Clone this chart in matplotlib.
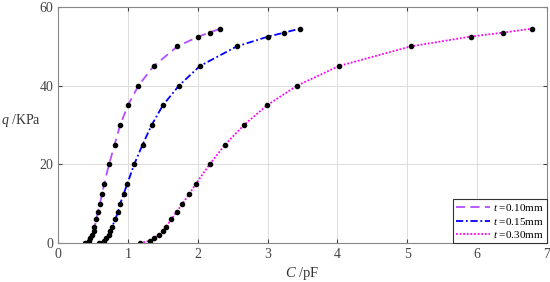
import numpy as np
import matplotlib.pyplot as plt

plt.rcParams['font.family'] = ['Liberation Serif', 'DejaVu Serif']
plt.rcParams['mathtext.fontset'] = 'custom'
plt.rcParams['mathtext.it'] = 'Liberation Serif:italic'
plt.rcParams['mathtext.rm'] = 'Liberation Serif'

# capacitance (pF) and pressure (KPa)
q = [0, 0.6, 1.2, 2, 3, 4, 6, 8, 10, 12.5, 15, 20, 25, 30, 35, 40, 45, 50, 52.5, 53.5, 54.5]
c_010 = [0.39, 0.44, 0.46, 0.49, 0.51, 0.52, 0.55, 0.57, 0.60, 0.63, 0.66, 0.73, 0.81,
         0.89, 1.00, 1.15, 1.37, 1.71, 2.01, 2.17, 2.32]
c_015 = [0.59, 0.66, 0.69, 0.73, 0.75, 0.77, 0.82, 0.86, 0.89, 0.94, 0.99, 1.09, 1.21,
         1.34, 1.50, 1.73, 2.03, 2.56, 3.01, 3.24, 3.46]
c_030 = [1.17, 1.32, 1.38, 1.44, 1.50, 1.54, 1.62, 1.70, 1.78, 1.88, 1.97, 2.17, 2.39,
         2.66, 2.99, 3.42, 4.02, 5.05, 5.91, 6.37, 6.78]

labels = ['$t$ =0.10mm', '$t$ =0.15mm', '$t$ =0.30mm']
colors = ['#b44dff', '#0000ff', '#ff00ff']
styles = [(0, (5, 3)), (0, (4, 1.5, 1, 1.5)), (0, (1, 1))]

fig = plt.figure(figsize=(5.5, 2.82), dpi=100)
ax = fig.add_axes([0.1055, 0.138, 0.889, 0.837])

for c, lab, col, ls in zip([c_010, c_015, c_030], labels, colors, styles):
    ax.plot(c, q, color=col, linestyle=ls, linewidth=1.3, label=lab)
for c in [c_010, c_015, c_030]:
    ax.plot(c, q, 'o', color='black', markersize=3, linestyle='none')

ax.set_xlim(0, 7)
ax.set_ylim(0, 60)
ax.set_xticks(range(0, 8))
ax.set_yticks([0, 20, 40, 60])
ax.grid(True, color='#dcdcdc', linewidth=0.7)
ax.tick_params(direction='in', labelsize=10, colors='#444444', length=3,
               top=True, right=True, labeltop=False, labelright=False)
for sp in ax.spines.values():
    sp.set_color('#888888')
    sp.set_linewidth(0.8)

ax.set_xlabel('$C$ /pF', fontsize=10.5, color='#333333', labelpad=3)
ax.set_ylabel('$q$ /KPa', fontsize=10, color='#333333', rotation=0, ha='right', va='center')
ax.yaxis.set_label_coords(-0.034, 0.52)

h, l = ax.get_legend_handles_labels()
leg = ax.legend(h[:3], l[:3], loc='lower right', fontsize=8, frameon=True, fancybox=False,
                edgecolor='#333333', framealpha=1, borderaxespad=0, handlelength=3.0,
                handletextpad=0.3, labelspacing=0.2, borderpad=0.3)
leg.get_frame().set_linewidth(0.8)

fig.savefig('out.png', dpi=100)
